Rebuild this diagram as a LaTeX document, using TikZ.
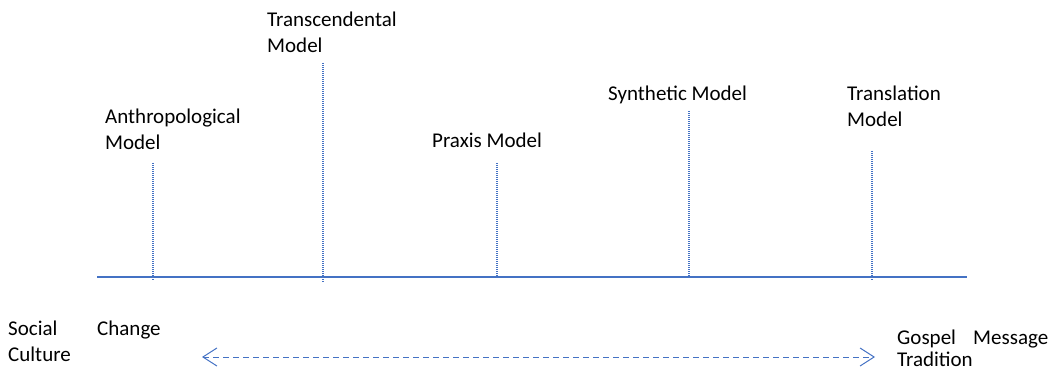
\documentclass[tikz,border=0pt]{standalone}
\usepackage{fontspec}
\setmainfont{Carlito}
\usetikzlibrary{arrows.meta}
\definecolor{lineblue}{HTML}{4472C4}
\begin{document}
\begin{tikzpicture}[x=1pt,y=-1pt,
  lbl/.style={inner sep=0pt,anchor=base west,align=left,font=\fontsize{21}{26.5}\selectfont},
  tick/.style={draw=lineblue,dash pattern=on 1pt off 1pt,line width=1.1pt},
  axis/.style={draw=lineblue,line width=1.2pt},
  span/.style={draw=lineblue,dash pattern=on 6pt off 4pt,line width=1pt,{Straight Barb[length=14pt,width=18pt,line width=1pt]}-{Straight Barb[length=14pt,width=18pt,line width=1pt]}}]
\useasboundingbox (0,0) rectangle (1059,371);
% axis
\coordinate (axL) at (97,277);
\coordinate (axR) at (967,277);
\draw[axis] (axL) -- (axR);
% ticks
\coordinate (a1) at (153,163); \coordinate (a2) at (153,280);
\coordinate (t1) at (323,63);  \coordinate (t2) at (323,282);
\coordinate (p1) at (497,163); \coordinate (p2) at (497,278);
\coordinate (s1) at (689,111); \coordinate (s2) at (689,278);
\coordinate (r1) at (872,151); \coordinate (r2) at (872,281);
\draw[tick] (a1) -- (a2);
\draw[tick] (t1) -- (t2);
\draw[tick] (p1) -- (p2);
\draw[tick] (s1) -- (s2);
\draw[tick] (r1) -- (r2);
% labels (anchor = baseline of last line)
\node[lbl] (anth) at (105,150) {Anthropological\\Model};
\node[lbl] (trans) at (267,53) {Transcendental\\Model};
\node[lbl] (prax) at (432,148) {Praxis Model};
\node[lbl] (synth) at (608,101) {Synthetic Model};
\node[lbl] (transl) at (847,127) {Translation\\Model};
\node[lbl] (social) at (8,335) {Social};
\node[lbl] (change) at (97,335) {Change};
\node[lbl] (culture) at (8,361) {Culture};
\node[lbl] (gospel) at (897,344) {Gospel};
\node[lbl] (message) at (973,344) {Message};
\node[lbl] (trad) at (897,366) {Tradition};
% arrow
\coordinate (arL) at (202,357);
\coordinate (arR) at (875,357);
\draw[span] (arL) -- (arR);
\end{tikzpicture}
\end{document}
